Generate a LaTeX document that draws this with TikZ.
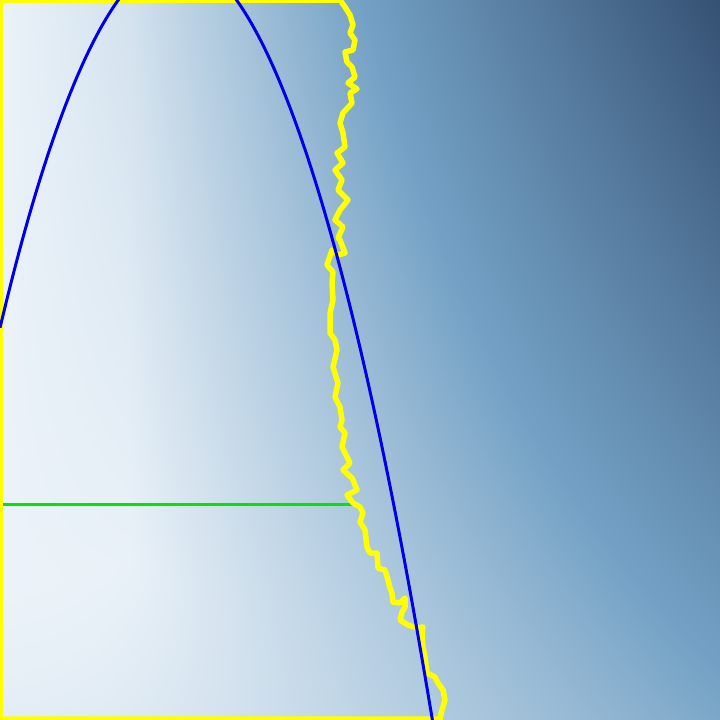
\documentclass[tikz,border=0pt]{standalone}
\usetikzlibrary{positioning}
\definecolor{walkyellow}{RGB}{255,255,0}
\definecolor{curveblue}{RGB}{0,0,230}
\definecolor{levelgreen}{RGB}{0,230,0}
% sky background, x y -> r g b
\pgfdeclarefunctionalshading{sky}{\pgfpoint{-50bp}{-50bp}}{\pgfpoint{50bp}{50bp}}{}{
  25 add 50 div exch 25 add 50 div exch
  2 copy
  0.22 sub dup 0 gt {pop 0} if dup mul exch 0.18 sub dup mul add sqrt 0.3 mul
  3 1 roll
  0.594 mul 0.21 add mul
  add
  dup 0.5 le
  {dup -1.06 mul 0.98 add exch dup -0.72 mul 0.99 add exch -0.46 mul 1.0 add}
  {dup -0.44 mul 0.67 add exch dup -0.57 mul 0.915 add exch -0.58 mul 1.06 add}
  ifelse
}
\tikzset{
  walk/.style={walkyellow, line width=5.5pt, line join=round, line cap=round},
  curve/.style={curveblue, line width=3pt},
  level/.style={levelgreen, line width=3pt}
}
\begin{document}
\begin{tikzpicture}[x=1pt,y=-1pt]
    \useasboundingbox (0,0) rectangle (720,720);
    \clip (0,0) rectangle (720,720);
    % background
    \shade[shading=sky] (0,0) rectangle (720,720);
    % level line
    \draw [level] (0,504) -- (352,504);
    % region with random edge
    \draw [walk] (0,0) -- (0,719) -- (440,719) -- (442,710) -- (445,700) -- (443,690) -- (438,683)
        -- (435,677) -- (427,673) -- (425,657) -- (423,647) -- (422,633) -- (423,627) -- (417,628)
        -- (408,625) -- (400,620) -- (402,612) -- (405,607) -- (405,598) -- (400,603) -- (393,602)
        -- (392,593) -- (390,588) -- (388,580) -- (385,570) -- (378,568) -- (377,553) -- (370,553)
        -- (367,547) -- (365,530) -- (360,522) -- (363,513) -- (360,507) -- (353,503) -- (347,495)
        -- (357,490) -- (353,480) -- (352,478) -- (343,470) -- (350,463) -- (345,453) -- (342,447)
        -- (345,433) -- (340,427) -- (342,420) -- (340,407) -- (335,397) -- (338,383) -- (333,367)
        -- (337,350) -- (335,340) -- (330,333) -- (330,313) -- (333,300) -- (332,283) -- (333,272)
        -- (327,265) -- (332,250) -- (338,255) -- (345,253) -- (340,240) -- (338,238) -- (343,227)
        -- (335,220) -- (340,210) -- (348,200) -- (338,190) -- (342,180) -- (335,170) -- (343,163)
        -- (337,153) -- (345,147) -- (343,133) -- (340,123) -- (343,113) -- (352,103) -- (350,93)
        -- (357,89) -- (348,83) -- (355,77) -- (352,67) -- (347,62) -- (345,52) -- (353,50)
        -- (355,40) -- (350,33) -- (353,25) -- (350,15) -- (345,7) -- (340,0) -- cycle;
    % parabola
    \draw [curve] (0,327.8) parabola bend (177.5,-41.5) (432.4,720);
\end{tikzpicture}
\end{document}
